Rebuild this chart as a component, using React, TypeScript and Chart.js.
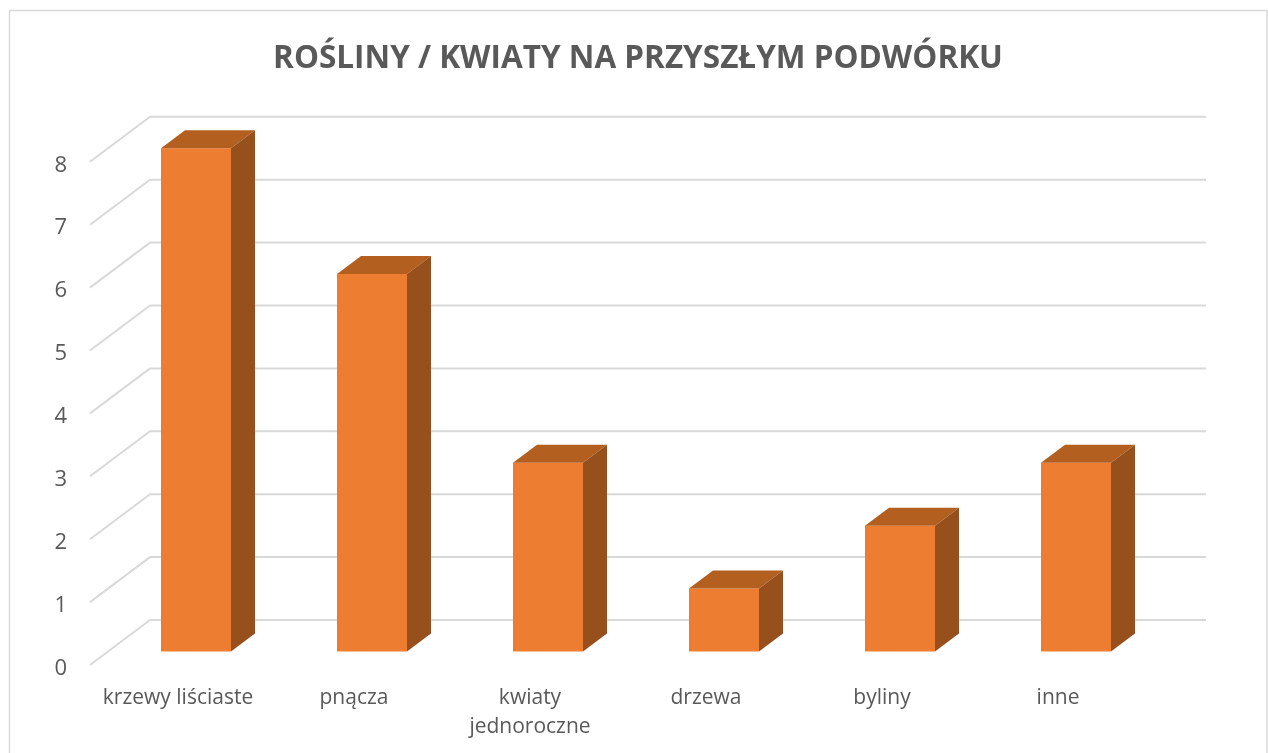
import React, { useEffect, useRef } from "react";
import { Chart, registerables } from "chart.js";

Chart.register(...registerables);

const categories: (string | string[])[] = [
  "krzewy liściaste",
  "pnącza",
  ["kwiaty", "jednoroczne"],
  "drzewa",
  "byliny",
  "inne",
];
const values = [8, 6, 3, 1, 2, 3];
const chartTitle = "ROŚLINY / KWIATY NA PRZYSZŁYM PODWÓRKU";

const FRONT = "#ED7D31";
const TOP = "#B25F20";
const SIDE = "#974F1C";
const GRID = "#D9D9D9";
const TEXT = "#595959";
const FONT = "'Open Sans', sans-serif";
const WALL_DX = 60;
const WALL_DY = 45;
const Y_LABEL_SHIFT = 3.5;

const threeD = {
  id: "threeD",
  beforeDraw(chart: any) {
    const { ctx, height } = chart;
    ctx.save();
    ctx.strokeStyle = GRID;
    ctx.lineWidth = 1.5;
    ctx.strokeRect(9.5, 10.5, 1257.5, height + 20);
    ctx.restore();
    const items = chart.scales.y.getLabelItems();
    if (!items.shifted) {
      items.forEach((it: any) => {
        it.options.translation[1] += Y_LABEL_SHIFT;
      });
      items.shifted = true;
    }
  },
  beforeDatasetsDraw(chart: any) {
    const { ctx, chartArea, scales } = chart;
    const y = scales.y;
    ctx.save();
    ctx.strokeStyle = GRID;
    ctx.lineWidth = 2;
    ctx.lineJoin = "round";
    y.ticks.forEach((t: any) => {
      const py = y.getPixelForValue(t.value);
      ctx.beginPath();
      ctx.moveTo(chartArea.left, py);
      ctx.lineTo(chartArea.left + WALL_DX, py - WALL_DY);
      ctx.lineTo(chartArea.right + WALL_DX, py - WALL_DY);
      ctx.stroke();
    });
    ctx.restore();
    ctx.save();
    ctx.translate(WALL_DX * 0.3, -WALL_DY * 0.3);
  },
  afterDatasetsDraw(chart: any) {
    const { ctx } = chart;
    const dx = WALL_DX * 0.4;
    const dy = WALL_DY * 0.4;
    chart.getDatasetMeta(0).data.forEach((bar: any) => {
      const p = bar.getProps(["x", "y", "base", "width"], true);
      const l = p.x - p.width / 2;
      const r = p.x + p.width / 2;
      ctx.fillStyle = TOP;
      ctx.beginPath();
      ctx.moveTo(l, p.y);
      ctx.lineTo(l + dx, p.y - dy);
      ctx.lineTo(r + dx, p.y - dy);
      ctx.lineTo(r, p.y);
      ctx.closePath();
      ctx.fill();
      ctx.fillStyle = SIDE;
      ctx.beginPath();
      ctx.moveTo(r, p.y);
      ctx.lineTo(r + dx, p.y - dy);
      ctx.lineTo(r + dx, p.base - dy);
      ctx.lineTo(r, p.base);
      ctx.closePath();
      ctx.fill();
    });
    ctx.restore();
  },
};

export default function App() {
  const ref = useRef<HTMLCanvasElement>(null);
  useEffect(() => {
    const chart = new Chart(ref.current!, {
      type: "bar",
      data: {
        labels: categories as any,
        datasets: [
          {
            data: values,
            backgroundColor: FRONT,
            borderWidth: 0,
            barPercentage: 70 / 176,
            categoryPercentage: 1,
            clip: false as any,
          },
        ],
      },
      plugins: [threeD],
      options: {
        responsive: false,
        animation: false,
        layout: { padding: 0 },
        plugins: {
          legend: { display: false },
          tooltip: { enabled: false },
          title: {
            display: true,
            text: chartTitle,
            color: TEXT,
            font: { family: FONT, size: 31.5, weight: "bold" },
            padding: { top: 40, bottom: 84 },
          },
        },
        scales: {
          x: {
            grid: { display: false },
            border: { display: false },
            afterFit: (s: any) => {
              s.height = 88;
            },
            ticks: {
              color: TEXT,
              font: { family: FONT, size: 21, lineHeight: 1.38 },
              padding: 11,
              maxRotation: 0,
              autoSkip: false,
            },
          },
          y: {
            min: 0,
            max: 8,
            grid: { display: false },
            border: { display: false },
            afterFit: (s: any) => {
              s.width = 90;
            },
            ticks: {
              stepSize: 1,
              color: TEXT,
              font: { family: FONT, size: 22 },
              padding: 15,
            },
          },
          spacer: {
            axis: "y",
            position: "right",
            grid: { display: false },
            border: { display: false },
            ticks: { display: false },
            afterFit: (s: any) => {
              s.width = 130;
            },
          } as any,
        },
      },
    });
    return () => chart.destroy();
  }, []);
  return (
    <div style={{ position: "fixed", left: 0, top: 0, width: 1268, height: 753, overflow: "hidden", background: "#fff" }}>
      <canvas ref={ref} width={1276} height={753} style={{ display: "block" }} />
    </div>
  );
}
